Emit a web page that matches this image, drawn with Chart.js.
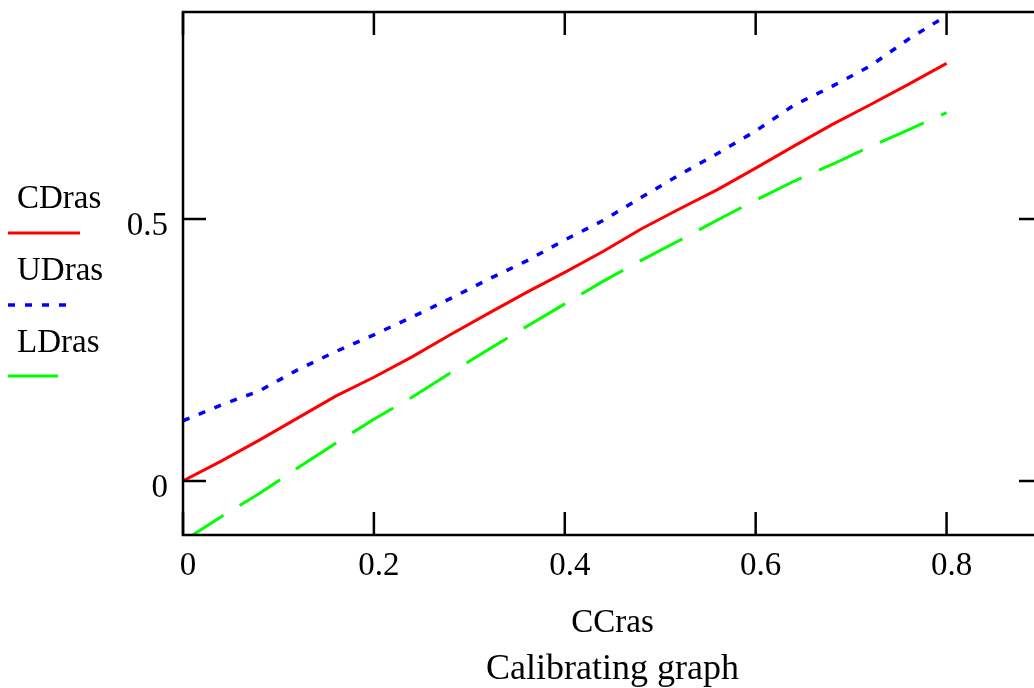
<!DOCTYPE html>
<html>
<head>
<meta charset="utf-8">
<script src="https://cdn.jsdelivr.net/npm/chart.js@4.4.1/dist/chart.umd.min.js"></script>
<style>
  html, body { margin: 0; padding: 0; background: #ffffff; overflow: hidden; width: 1034px; height: 688px; }
  canvas { display: block; }
</style>
</head>
<body>
<canvas id="c" width="1050" height="688"></canvas>
<script>
// ---- data ----
const ccras = [0, 0.04, 0.08, 0.12, 0.16, 0.20, 0.24, 0.28, 0.32, 0.36, 0.40,
               0.44, 0.48, 0.52, 0.56, 0.60, 0.64, 0.68, 0.72, 0.76, 0.80];
const cdras = [0, 0.038, 0.078, 0.120, 0.162, 0.198, 0.237, 0.279, 0.320, 0.360, 0.398,
               0.438, 0.481, 0.519, 0.556, 0.597, 0.639, 0.680, 0.718, 0.757, 0.797];
const udras = [0.115, 0.145, 0.172, 0.212, 0.247, 0.279, 0.313, 0.348, 0.385, 0.420, 0.460,
               0.497, 0.541, 0.584, 0.625, 0.668, 0.717, 0.753, 0.792, 0.843, 0.888];
const ldras = [-0.115, -0.068, -0.024, 0.025, 0.072, 0.118, 0.160, 0.206, 0.251, 0.295, 0.338,
               0.381, 0.421, 0.459, 0.498, 0.536, 0.572, 0.604, 0.638, 0.670, 0.703];
const xTicks = [0, 0.2, 0.4, 0.6, 0.8];
const yTicks = [0, 0.5];
const seriesNames = ['CDras', 'UDras', 'LDras'];
const xTitle = 'CCras';
const chartTitle = 'Calibrating graph';

const FONT = "'Liberation Serif', 'Times New Roman', serif";
const FS = 33;

function pts(ys) { return ccras.map((x, i) => ({ x: x, y: ys[i] })); }

const frameAndLegend = {
  id: 'frameAndLegend',
  beforeDraw(chart) {
    const ctx = chart.ctx;
    ctx.save();
    ctx.fillStyle = '#ffffff';
    ctx.fillRect(0, 0, chart.width, chart.height);
    ctx.restore();
  },
  afterDraw(chart) {
    const ctx = chart.ctx;
    const a = chart.chartArea;
    const xs = chart.scales.x, ys = chart.scales.y;
    const TL = 23;
    ctx.save();
    ctx.strokeStyle = '#000000';
    ctx.lineWidth = 2.5;
    ctx.beginPath();
    ctx.rect(a.left, a.top, a.right - a.left, a.bottom - a.top);
    ctx.stroke();
    ctx.beginPath();
    xTicks.forEach(v => {
      const px = xs.getPixelForValue(v);
      ctx.moveTo(px, a.bottom); ctx.lineTo(px, a.bottom - TL);
      ctx.moveTo(px, a.top); ctx.lineTo(px, a.top + TL);
    });
    yTicks.forEach(v => {
      const py = ys.getPixelForValue(v);
      ctx.moveTo(a.left, py); ctx.lineTo(a.left + TL, py);
      ctx.moveTo(a.right, py); ctx.lineTo(a.right - TL, py);
    });
    ctx.stroke();

    // legend at the left
    const entries = [
      { textY: 208, lineY: 233, x1: 8, x2: 80 },
      { textY: 280, lineY: 305, x1: 8, x2: 66 },
      { textY: 352, lineY: 376, x1: 8, x2: 58 }
    ];
    ctx.font = FS + 'px ' + FONT;
    ctx.textAlign = 'left';
    ctx.textBaseline = 'alphabetic';
    chart.data.datasets.forEach((ds, i) => {
      const e = entries[i];
      ctx.fillStyle = '#000000';
      ctx.fillText(ds.label, 17, e.textY);
      ctx.strokeStyle = ds.borderColor;
      ctx.lineWidth = ds.borderWidth;
      ctx.setLineDash(i === 1 ? ds.borderDash : []);
      ctx.beginPath();
      ctx.moveTo(e.x1, e.lineY);
      ctx.lineTo(e.x2, e.lineY);
      ctx.stroke();
    });
    ctx.restore();
  }
};

new Chart(document.getElementById('c'), {
  type: 'line',
  data: {
    datasets: [
      { label: seriesNames[0], data: pts(cdras), borderColor: '#ff0000', borderWidth: 3,
        pointRadius: 0, tension: 0, fill: false },
      { label: seriesNames[1], data: pts(udras), borderColor: '#0000ff', borderWidth: 3.5,
        borderDash: [7, 10], pointRadius: 0, tension: 0, fill: false },
      { label: seriesNames[2], data: pts(ldras), borderColor: '#00ff00', borderWidth: 3,
        borderDash: [48, 19], pointRadius: 0, tension: 0, fill: false }
    ]
  },
  options: {
    responsive: false,
    animation: false,
    devicePixelRatio: 1,
    layout: { padding: { left: 0, right: 8, top: 12, bottom: 0 } },
    plugins: {
      legend: { display: false },
      tooltip: { enabled: false },
      title: {
        display: true,
        text: chartTitle,
        position: 'bottom',
        fullSize: false,
        color: '#000000',
        font: { family: FONT, size: 36, weight: 'normal', lineHeight: 1.0 },
        padding: { top: 0, bottom: 0 }
      }
    },
    scales: {
      x: {
        type: 'linear',
        min: 0,
        max: 0.9,
        grid: { display: false, drawTicks: false },
        border: { display: false },
        afterBuildTicks: s => { s.ticks = xTicks.map(v => ({ value: v })); },
        afterFit: s => { s.height = 117; s.paddingLeft = 0; s.paddingRight = 0; },
        ticks: {
          color: '#000000',
          font: { family: FONT, size: FS },
          padding: 12,
          labelOffset: 5,
          maxRotation: 0,
          autoSkip: false,
          callback: v => String(v)
        },
        title: {
          display: true,
          text: xTitle,
          color: '#000000',
          font: { family: FONT, size: FS, lineHeight: 1.1 },
          padding: { top: 0, bottom: 11 }
        }
      },
      y: {
        type: 'linear',
        min: -0.103,
        max: 0.895,
        grid: { display: false, drawTicks: false },
        border: { display: false },
        afterBuildTicks: s => { s.ticks = yTicks.map(v => ({ value: v })); },
        afterFit: s => { s.width = 183; s.paddingTop = 0; s.paddingBottom = 0; },
        ticks: {
          color: '#000000',
          font: { family: FONT, size: FS },
          padding: 15,
          labelOffset: 7,
          autoSkip: false,
          callback: v => String(v)
        }
      }
    }
  },
  plugins: [frameAndLegend]
});
</script>
</body>
</html>
